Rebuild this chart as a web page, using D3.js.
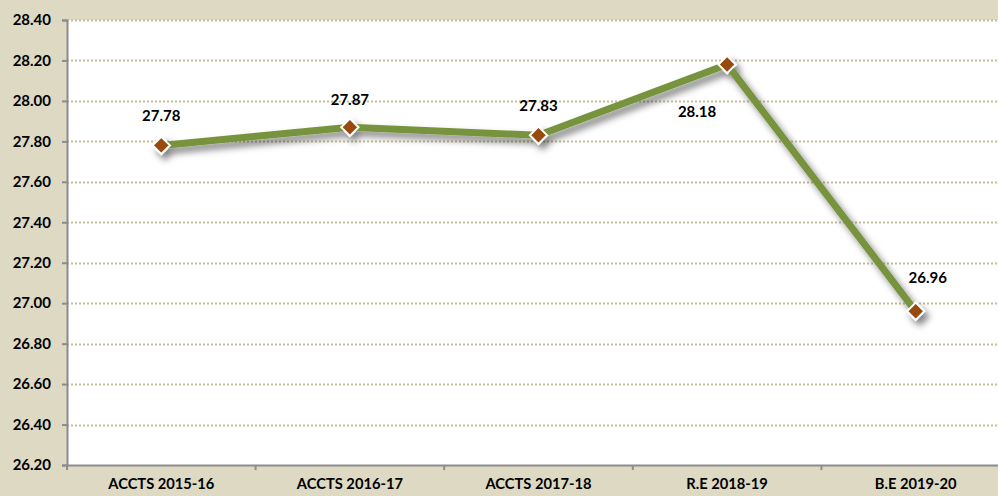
<!DOCTYPE html>
<html>
<head>
<meta charset="utf-8">
<script src="https://cdn.jsdelivr.net/npm/d3@7"></script>
<style>
  html, body { margin: 0; padding: 0; background: #ddd9c3; overflow: hidden; }
  svg { display: block; }
</style>
</head>
<body>
<div id="chart"></div>
<script>
const categories = ['ACCTS 2015-16', 'ACCTS 2016-17', 'ACCTS 2017-18', 'R.E 2018-19', 'B.E 2019-20'];
const values = [27.78, 27.87, 27.83, 28.18, 26.96];
const yTicks = [26.2, 26.4, 26.6, 26.8, 27.0, 27.2, 27.4, 27.6, 27.8, 28.0, 28.2, 28.4];
// label placement relative to the marker (dx, dy)
const labelOffsets = [[0, -30], [0, -27], [0, -30], [-30, 47], [12, -34]];

const width = 998;
const height = 496;
const margin = { top: 20, right: -12, bottom: 31, left: 67 };
const innerWidth = width - margin.left - margin.right;
const innerHeight = height - margin.top - margin.bottom;

const fontFamily = `Lato, 'Open Sans', sans-serif`;
const lineColor = '#77933c';
const markerColor = '#984807';
const gridColor = '#c4bd97';
const axisColor = '#8c8c8c';

const svg = d3.select('#chart')
    .append('svg')
    .attr('width', width)
    .attr('height', height);

const defs = svg.append('defs');
const shadow = defs.append('filter')
    .attr('id', 'shadow')
    .attr('x', '-20%').attr('y', '-20%')
    .attr('width', '140%').attr('height', '140%');
shadow.append('feDropShadow')
    .attr('dx', 4).attr('dy', 5)
    .attr('stdDeviation', 3.5)
    .attr('flood-color', '#000')
    .attr('flood-opacity', 0.5);

const g = svg.append('g')
    .attr('transform', `translate(${margin.left},${margin.top})`);

g.append('rect')
    .attr('width', innerWidth)
    .attr('height', innerHeight)
    .attr('fill', '#ffffff');

const xScale = d3.scaleBand()
    .domain(categories)
    .range([0, innerWidth]);

const yScale = d3.scaleLinear()
    .domain([26.2, 28.4])
    .range([innerHeight, 0]);

// grid lines
g.append('g')
    .selectAll('line')
    .data(yTicks.slice(1))
    .join('line')
    .attr('x1', 0)
    .attr('x2', innerWidth)
    .attr('y1', d => Math.round(yScale(d)) + 0.5)
    .attr('y2', d => Math.round(yScale(d)) + 0.5)
    .attr('stroke', gridColor)
    .attr('stroke-width', 2)
    .attr('stroke-dasharray', '2,2');

// y axis
g.append('g')
    .call(d3.axisLeft(yScale).tickValues(yTicks).tickFormat(d3.format('.2f')).tickSize(5).tickPadding(11))
    .call(a => a.select('.domain').attr('stroke', axisColor).attr('stroke-width', 2))
    .call(a => a.selectAll('.tick line').attr('stroke', axisColor).attr('stroke-width', 2))
    .call(a => a.selectAll('.tick text')
        .attr('fill', '#000')
        .style('font', `bold 15px ${fontFamily}`));

// x axis
g.append('g')
    .attr('transform', `translate(0,${innerHeight})`)
    .call(d3.axisBottom(xScale).tickSize(0).tickPadding(14))
    .call(a => a.select('.domain').attr('stroke', axisColor).attr('stroke-width', 2))
    .call(a => a.selectAll('.tick text')
        .attr('fill', '#000')
        .style('font', `bold 14.7px ${fontFamily}`));

// band boundary ticks on the x axis
g.append('g')
    .selectAll('line')
    .data(categories)
    .join('line')
    .attr('x1', d => xScale(d))
    .attr('x2', d => xScale(d))
    .attr('y1', innerHeight)
    .attr('y2', innerHeight + 5)
    .attr('stroke', axisColor)
    .attr('stroke-width', 2);

const points = categories.map((c, i) => ({ category: c, value: values[i], i: i }));
const xPos = d => xScale(d.category) + xScale.bandwidth() / 2;

const line = d3.line()
    .x(xPos)
    .y(d => yScale(d.value));

const series = g.append('g').attr('filter', 'url(#shadow)');

series.append('path')
    .datum(points)
    .attr('d', line)
    .attr('fill', 'none')
    .attr('stroke', lineColor)
    .attr('stroke-width', 7)
    .attr('stroke-linejoin', 'round');

series.selectAll('.marker')
    .data(points)
    .join('path')
    .attr('class', 'marker')
    .attr('d', d3.symbol().type(d3.symbolDiamond2).size(190))
    .attr('transform', d => `translate(${xPos(d)},${yScale(d.value)})`)
    .attr('fill', markerColor)
    .attr('stroke', '#ffffff')
    .attr('stroke-width', 2);

g.selectAll('.value-label')
    .data(points)
    .join('text')
    .attr('class', 'value-label')
    .attr('x', d => xPos(d) + labelOffsets[d.i][0])
    .attr('y', d => yScale(d.value) + labelOffsets[d.i][1])
    .attr('dy', '0.35em')
    .attr('text-anchor', 'middle')
    .attr('fill', '#000')
    .style('font', `bold 15px ${fontFamily}`)
    .text(d => d3.format('.2f')(d.value));
</script>
</body>
</html>
